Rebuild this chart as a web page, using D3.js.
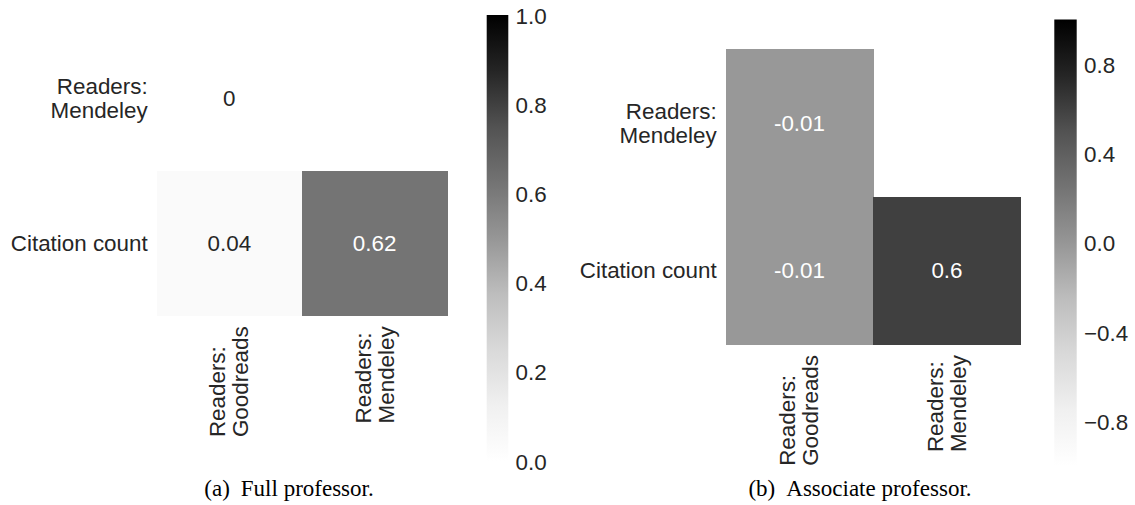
<!DOCTYPE html>
<html>
<head>
<meta charset="utf-8">
<script src="https://cdn.jsdelivr.net/npm/d3@7"></script>
<style>
  html, body { margin: 0; padding: 0; background: #ffffff; }
  svg { display: block; }
  text { font-family: "Liberation Sans", Arial, sans-serif; }
</style>
</head>
<body>
<svg id="chart" width="1135" height="505"></svg>
<script>
// ---------------- data ----------------
const rowLabels = [["Readers:", "Mendeley"], ["Citation count"]];
const colLabels = [["Readers:", "Goodreads"], ["Readers:", "Mendeley"]];
const fullValues  = [[0, null], [0.04, 0.62]];
const assocValues = [[-0.01, null], [-0.01, 0.6]];
const fullTicks  = [0.0, 0.2, 0.4, 0.6, 0.8, 1.0];
const assocTicks = [-0.8, -0.4, 0.0, 0.4, 0.8];
const captions = [["(a)", "Full professor."], ["(b)", "Associate professor."]];
// matplotlib "Greys" colormap anchors
const greysColors = ["#ffffff", "#f0f0f0", "#d9d9d9", "#bdbdbd", "#969696", "#737373", "#525252", "#252525", "#000000"];

// ---------------- helpers ----------------
const svg = d3.select("#chart");
const greys = d3.scaleLinear()
  .domain(greysColors.map((_, i) => i / (greysColors.length - 1)))
  .range(greysColors)
  .interpolate(d3.interpolateRgb);

const FONT = 22.4, LINE = 24;
const TEXT_DARK = "#262626";

function lum(c) {
  const rgb = d3.rgb(c);
  const f = v => { v /= 255; return v <= 0.03928 ? v / 12.92 : Math.pow((v + 0.055) / 1.055, 2.4); };
  return 0.2126 * f(rgb.r) + 0.7152 * f(rgb.g) + 0.0722 * f(rgb.b);
}

function annotFmt(v) {
  const s = d3.format(".2~g")(v);
  return s.replace("\u2212", "-");
}

// gradient for colorbars
const defs = svg.append("defs");
const grad = defs.append("linearGradient").attr("id", "greysGrad")
  .attr("x1", 0).attr("y1", 1).attr("x2", 0).attr("y2", 0);
greysColors.forEach((c, i) => {
  grad.append("stop").attr("offset", i / (greysColors.length - 1)).attr("stop-color", c);
});

function drawPanel(cfg) {
  const g = svg.append("g");
  const x = d3.scaleBand().domain(d3.range(colLabels.length)).range(cfg.xRange);
  const y = d3.scaleBand().domain(d3.range(rowLabels.length)).range(cfg.yRange);
  const norm = d3.scaleLinear().domain(cfg.domain).range([0, 1]).clamp(true);

  const cells = [];
  cfg.values.forEach((row, r) => row.forEach((v, c) => { if (v !== null) cells.push({ r, c, v }); }));

  g.selectAll("rect.cell").data(cells).enter().append("rect")
    .attr("class", "cell")
    .attr("x", d => x(d.c))
    .attr("y", d => y(d.r))
    .attr("width", x.bandwidth() + 0.5)
    .attr("height", y.bandwidth() + 0.5)
    .attr("shape-rendering", "crispEdges")
    .attr("fill", d => greys(norm(d.v)));

  g.selectAll("text.annot").data(cells).enter().append("text")
    .attr("class", "annot")
    .attr("x", d => x(d.c) + x.bandwidth() / 2)
    .attr("y", d => y(d.r) + y.bandwidth() / 2 + 8)
    .attr("text-anchor", "middle")
    .attr("font-size", FONT)
    .attr("fill", d => lum(greys(norm(d.v))) > 0.408 ? TEXT_DARK : "#ffffff")
    .text(d => annotFmt(d.v));

  // y tick labels
  rowLabels.forEach((lines, r) => {
    const cy = y(r) + y.bandwidth() / 2;
    const b1 = cy + 8 - 12 * (lines.length - 1);
    const t = g.append("text")
      .attr("text-anchor", "end")
      .attr("font-size", FONT)
      .attr("fill", TEXT_DARK);
    lines.forEach((ln, i) => {
      t.append("tspan").attr("x", cfg.xRange[0] - 9).attr("y", b1 + i * LINE).text(ln);
    });
  });

  // x tick labels, rotated 90deg
  const top = cfg.yRange[1] + 11;
  colLabels.forEach((lines, c) => {
    const cx = x(c) + x.bandwidth() / 2;
    const lg = g.append("g").attr("transform", `translate(${cx},${top}) rotate(-90)`);
    const texts = lines.map((ln, i) => lg.append("text")
      .attr("text-anchor", "start")
      .attr("font-size", FONT)
      .attr("fill", TEXT_DARK)
      .attr("y", -4 + i * 23)
      .text(ln));
    const maxW = d3.max(texts, t => t.node().getComputedTextLength());
    texts.forEach(t => t.attr("x", -maxW));
  });

  // colorbar
  const cb = cfg.cbar;
  const cscale = d3.scaleLinear().domain(cfg.domain).range([cb.y1, cb.y0]);
  g.append("rect")
    .attr("x", cb.x0).attr("y", cscale(cfg.domain[1]))
    .attr("width", cb.x1 - cb.x0)
    .attr("height", cscale(cfg.domain[0]) - cscale(cfg.domain[1]))
    .attr("fill", "url(#greysGrad)");
  const axis = d3.axisRight(cscale).tickValues(cfg.ticks).tickSize(0).tickPadding(0)
    .tickFormat(d3.format(".1f"));
  const ag = g.append("g").attr("transform", `translate(${cb.labelX},0)`).call(axis);
  ag.select(".domain").remove();
  ag.selectAll("text")
    .attr("font-size", FONT)
    .attr("font-family", '"Liberation Sans", Arial, sans-serif')
    .attr("fill", TEXT_DARK)
    .attr("x", 0)
    .attr("dy", "0.36em");

  // caption
  const cap = svg.append("text")
    .attr("x", cfg.captionX)
    .attr("y", 496)
    .attr("text-anchor", "middle")
    .attr("font-size", 23)
    .attr("fill", "#000000")
    .style("font-family", '"Liberation Serif", "Times New Roman", serif');
  cap.append("tspan").text(cfg.caption[0]);
  cap.append("tspan").attr("dx", 11).text(cfg.caption[1]);
}

drawPanel({
  values: fullValues,
  domain: [0, 1],
  ticks: fullTicks,
  xRange: [156.7, 447.3],
  yRange: [26, 315.3],
  cbar: { x0: 486.7, x1: 508.3, y0: 15, y1: 461, labelX: 515.5 },
  captionX: 289,
  caption: captions[0]
});

drawPanel({
  values: assocValues,
  domain: [-1, 1],
  ticks: assocTicks,
  xRange: [725.7, 1020.7],
  yRange: [49, 344],
  cbar: { x0: 1054.3, x1: 1076.7, y0: 19.5, y1: 466, labelX: 1084 },
  captionX: 860,
  caption: captions[1]
});
</script>
</body>
</html>
